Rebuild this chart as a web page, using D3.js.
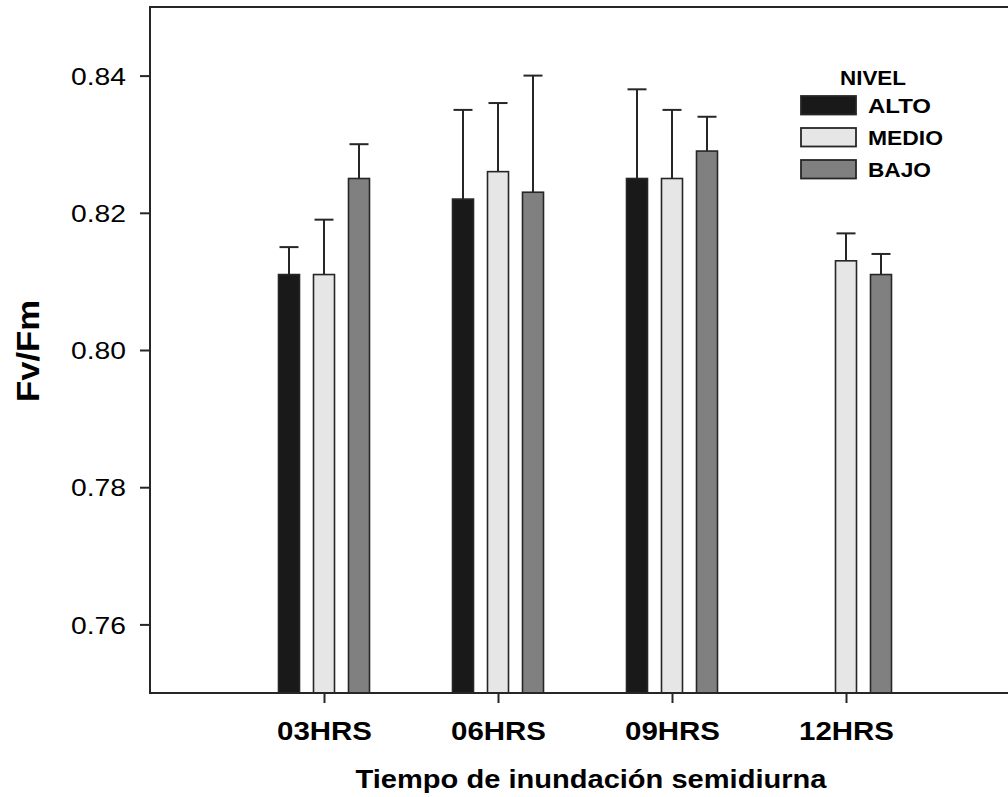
<!DOCTYPE html>
<html>
<head>
<meta charset="utf-8">
<script src="https://cdn.jsdelivr.net/npm/d3@7"></script>
<style>
  html, body { margin: 0; padding: 0; background: #fff; }
  svg { display: block; }
  text { font-family: "Liberation Sans", Arial, sans-serif; fill: #000; }
</style>
</head>
<body>
<svg id="chart" width="1008" height="797"></svg>
<script>
// Fv/Fm by flooding time and tidal level
const categories = ["03HRS", "06HRS", "09HRS", "12HRS"];
const levels = ["ALTO", "MEDIO", "BAJO"];
const alto = [0.811, 0.822, 0.825, null];
const altoErr = [0.004, 0.013, 0.013, null];
const medio = [0.811, 0.826, 0.825, 0.813];
const medioErr = [0.008, 0.010, 0.010, 0.004];
const bajo = [0.825, 0.823, 0.829, 0.811];
const bajoErr = [0.005, 0.017, 0.005, 0.003];
const yTicks = [0.76, 0.78, 0.80, 0.82, 0.84];
const yDomain = [0.75, 0.85];

const series = [
  { name: levels[0], values: alto, errs: altoErr, fill: "#191919" },
  { name: levels[1], values: medio, errs: medioErr, fill: "#e6e6e6" },
  { name: levels[2], values: bajo, errs: bajoErr, fill: "#808080" }
];

const svg = d3.select("#chart");
const plotLeft = 150, plotRight = 1020, plotTop = 7, plotBottom = 693;
const ink = "#262626";

const x = d3.scalePoint().domain(categories).range([plotLeft, plotRight]).padding(1);
const y = d3.scaleLinear().domain(yDomain).range([plotBottom, plotTop]);
const offset = d3.scalePoint().domain(levels).range([-35, 35]);
const barW = 21, capW = 19;

// helper: text squeezed/stretched to a set width
function fitText(sel, len) {
  sel.attr("textLength", len).attr("lengthAdjust", "spacingAndGlyphs");
  return sel;
}

// bars and upward error bars
series.forEach(s => {
  const g = svg.append("g");
  const pts = categories.map((c, i) => ({ c, v: s.values[i], e: s.errs[i] })).filter(d => d.v != null);
  g.selectAll("line.err").data(pts).join("line").attr("class", "err")
    .attr("x1", d => x(d.c) + offset(s.name)).attr("x2", d => x(d.c) + offset(s.name))
    .attr("y1", d => y(d.v)).attr("y2", d => y(d.v + d.e))
    .attr("stroke", ink).attr("stroke-width", 2);
  g.selectAll("line.cap").data(pts).join("line").attr("class", "cap")
    .attr("x1", d => x(d.c) + offset(s.name) - capW / 2).attr("x2", d => x(d.c) + offset(s.name) + capW / 2)
    .attr("y1", d => y(d.v + d.e)).attr("y2", d => y(d.v + d.e))
    .attr("stroke", ink).attr("stroke-width", 2);
  g.selectAll("rect").data(pts).join("rect")
    .attr("x", d => x(d.c) + offset(s.name) - barW / 2)
    .attr("y", d => y(d.v))
    .attr("width", barW)
    .attr("height", d => y(yDomain[0]) - y(d.v))
    .attr("fill", s.fill).attr("stroke", ink).attr("stroke-width", 1.6);
});

// frame: top and bottom lines run off the right edge, left axis
svg.append("line").attr("x1", plotLeft).attr("x2", plotRight).attr("y1", plotTop).attr("y2", plotTop)
  .attr("stroke", ink).attr("stroke-width", 2);
svg.append("line").attr("x1", plotLeft).attr("x2", plotRight).attr("y1", plotBottom).attr("y2", plotBottom)
  .attr("stroke", ink).attr("stroke-width", 2);
svg.append("line").attr("x1", plotLeft).attr("x2", plotLeft).attr("y1", plotTop - 1).attr("y2", plotBottom + 1)
  .attr("stroke", ink).attr("stroke-width", 2);

// y axis
const yAxis = svg.append("g").attr("transform", `translate(${plotLeft},0)`)
  .call(d3.axisLeft(y).tickValues(yTicks).tickSize(10).tickPadding(14).tickFormat(d3.format(".2f")));
yAxis.select(".domain").remove();
yAxis.selectAll(".tick line").attr("stroke", ink).attr("stroke-width", 2);
yAxis.selectAll(".tick text")
  .attr("font-size", 24).attr("fill", "#000").attr("font-family", "Liberation Sans, Arial, sans-serif")
  .attr("dy", "0.36em")
  .call(fitText, 55);

// x axis
const xAxis = svg.append("g").attr("transform", `translate(0,${plotBottom})`)
  .call(d3.axisBottom(x).tickSize(10).tickPadding(19));
xAxis.select(".domain").remove();
xAxis.selectAll(".tick line").attr("stroke", ink).attr("stroke-width", 2);
xAxis.selectAll(".tick text")
  .attr("font-size", 26).attr("font-weight", "bold").attr("fill", "#000")
  .attr("font-family", "Liberation Sans, Arial, sans-serif")
  .attr("dy", "0.71em")
  .call(fitText, 95);

// axis titles
svg.append("text")
  .attr("x", 591).attr("y", 788)
  .attr("text-anchor", "middle").attr("font-size", 25).attr("font-weight", "bold")
  .text("Tiempo de inundación semidiurna")
  .call(fitText, 471);

svg.append("text")
  .attr("transform", "translate(39,351) rotate(-90)")
  .attr("text-anchor", "middle").attr("font-size", 31).attr("font-weight", "bold")
  .text("Fv/Fm")
  .call(fitText, 102);

// legend
const legend = svg.append("g");
legend.append("text").attr("x", 840).attr("y", 85)
  .attr("font-size", 20).attr("font-weight", "bold").text("NIVEL")
  .call(fitText, 66);
const labelW = { ALTO: 63, MEDIO: 75, BAJO: 63 };
series.forEach((s, i) => {
  const yy = 96 + i * 32;
  legend.append("rect").attr("x", 801).attr("y", yy).attr("width", 55).attr("height", 18.5)
    .attr("fill", s.fill).attr("stroke", ink).attr("stroke-width", 1.8);
  legend.append("text").attr("x", 868).attr("y", yy + 17)
    .attr("font-size", 20).attr("font-weight", "bold").text(s.name)
    .call(fitText, labelW[s.name]);
});
</script>
</body>
</html>
